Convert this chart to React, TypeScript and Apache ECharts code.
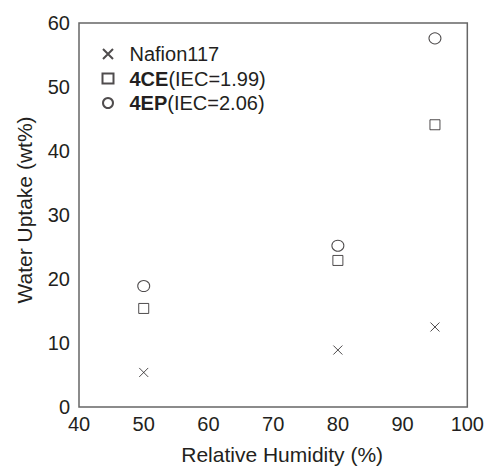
import React, { useEffect, useRef } from "react";
import * as echarts from "echarts";

const humidity = [50, 80, 95];
const nafion = [5.4, 8.9, 12.5];
const ce4 = [15.4, 22.9, 44.1];
const ep4 = [18.9, 25.2, 57.6];
const seriesNames = ["Nafion117", "4CE", "4EP"];
const legendSuffix: Record<string, string> = { "4CE": "(IEC=1.99)", "4EP": "(IEC=2.06)" };

const FONT = "Liberation Sans, Arial, sans-serif";
const INK = "#231f20";

export default function App() {
  const ref = useRef<HTMLDivElement>(null);
  useEffect(() => {
    const chart = echarts.init(ref.current!, undefined, { renderer: "svg" });
    const pts = (ys: number[]) => humidity.map((x, i) => [x, ys[i]]);
    const base = {
      type: "scatter" as const,
      itemStyle: { color: "none", borderColor: INK, borderWidth: 1 },
      emphasis: { disabled: true },
    };
    chart.setOption({
      animation: false,
      textStyle: { fontFamily: FONT },
      grid: { left: 79, top: 23, right: 19, bottom: 56, show: true, borderColor: "#666", borderWidth: 1.5 },
      legend: {
        orient: "vertical",
        left: 100,
        top: 42,
        padding: 0,
        itemGap: 0.5,
        itemWidth: 11,
        itemHeight: 10,
        data: seriesNames,
        textStyle: {
          fontSize: 20,
          lineHeight: 24,
          color: INK,
          fontFamily: FONT,
          padding: [0, 0, 0, 11],
          rich: { b: { fontWeight: "bold", fontSize: 20, lineHeight: 24, fontFamily: FONT, color: INK } },
        },
        formatter: (name: string) => (legendSuffix[name] ? `{b|${name}}${legendSuffix[name]}` : name),
      },
      xAxis: {
        type: "value",
        min: 40,
        max: 100,
        interval: 10,
        name: "Relative Humidity (%)",
        nameLocation: "middle",
        nameGap: 37,
        nameTextStyle: { fontSize: 21, color: INK, fontFamily: FONT, padding: [0, 0, 0, 18] },
        axisLine: { show: false },
        axisTick: { show: false },
        splitLine: { show: false },
        axisLabel: { fontSize: 20, color: INK, margin: 7, fontFamily: FONT },
      },
      yAxis: {
        type: "value",
        min: 0,
        max: 60,
        interval: 10,
        name: "Water Uptake (wt%)",
        nameLocation: "middle",
        nameGap: 44,
        nameTextStyle: { fontSize: 21, color: INK, fontFamily: FONT, padding: [0, 0, 0, 10] },
        axisLine: { show: false },
        axisTick: { show: false },
        splitLine: { show: false },
        axisLabel: { fontSize: 20, color: INK, margin: 9, fontFamily: FONT },
      },
      series: [
        { ...base, name: "Nafion117", data: pts(nafion), symbol: "path://M0,0L10,10M10,0L0,10", symbolSize: 9 },
        { ...base, name: "4CE", data: pts(ce4), symbol: "rect", symbolSize: [10, 10] },
        { ...base, name: "4EP", data: pts(ep4), symbol: "circle", symbolSize: [12, 11] },
      ],
    });
    return () => chart.dispose();
  }, []);
  return <div ref={ref} style={{ position: "absolute", left: 0, top: 0, width: 487, height: 470 }} />;
}
